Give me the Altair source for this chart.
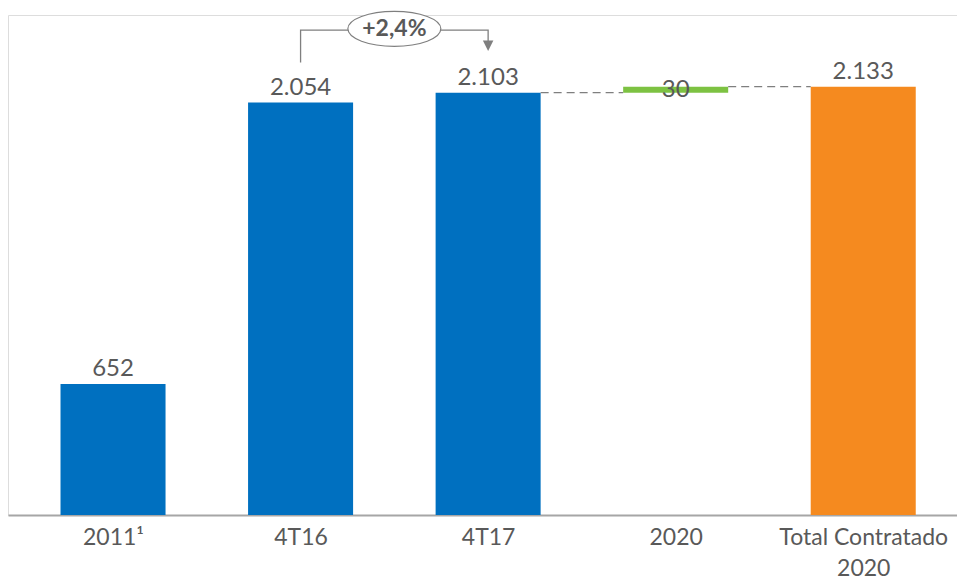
import json
import altair as alt
import pandas as pd

# ---- data ----
categories = ["2011", "4T16", "4T17", "2020", "Total Contratado 2020"]
axis_labels = [["2011¹"], ["4T16"], ["4T17"], ["2020"], ["Total Contratado", "2020"]]
bar_start = [0, 0, 0, 2103, 0]
bar_end = [652, 2054, 2103, 2133, 2133]
value_labels = ["652", "2.054", "2.103", "30", "2.133"]
bar_kind = ["hist", "hist", "hist", "add", "total"]
growth_label = "+2,4%"
growth_from, growth_to = 1, 2

FONT = "Lato"
GREY_TXT = "#595959"
GREY_LN = "#7f7f7f"
HALF = 0.28

bars = pd.DataFrame({
    "idx": list(range(len(categories))),
    "cat": categories,
    "start": bar_start,
    "end": bar_end,
    "label": value_labels,
    "kind": bar_kind,
})

# connectors between a bar and the next floating / total bar
conn_rows = []
for i in range(len(categories) - 1):
    if bar_kind[i + 1] in ("add", "total"):
        conn_rows.append({"x": i + HALF, "x2": i + 1 - HALF, "y": bar_end[i]})
conn = pd.DataFrame(conn_rows)

# growth bracket
top_level = max(bar_end) + 282
bracket = pd.DataFrame({
    "x": [growth_from, growth_from, growth_to, growth_to],
    "y": [bar_end[growth_from] + 200, top_level, top_level, top_level - 70],
    "o": [0, 1, 2, 3],
})
arrow = pd.DataFrame({"x": [growth_to], "y": [top_level - 78]})
bubble = pd.DataFrame({"x": [(growth_from + growth_to) / 2], "y": [top_level + 6], "t": [growth_label]})

xscale = alt.Scale(domain=[-0.56, 4.5], nice=False, zero=False)
yscale = alt.Scale(domain=[0, 2490], nice=False)

label_expr = json.dumps(axis_labels) + "[round(datum.value)]"

base = alt.Chart(bars)

bar_layer = base.transform_calculate(
    x0=f"datum.idx - {HALF}", x1=f"datum.idx + {HALF}"
).mark_bar().encode(
    x=alt.X("x0:Q", scale=xscale,
            axis=alt.Axis(values=[0, 1, 2, 3, 4], labelExpr=label_expr, title=None,
                          ticks=False, grid=False, domainColor="#a6a6a6", domainWidth=2,
                          labelFont=FONT, labelFontSize=23, labelColor=GREY_TXT,
                          labelPadding=11, labelLineHeight=31, labelFlush=False,
                          labelBaseline="top")),
    x2="x1:Q",
    y=alt.Y("start:Q", scale=yscale, axis=None),
    y2="end:Q",
    color=alt.Color("kind:N", scale=alt.Scale(domain=["hist", "add", "total"],
                                              range=["#0070c0", "#7dc242", "#f58a1f"]),
                    legend=None),
)

text_top = base.transform_filter("datum.kind != 'add'").mark_text(
    font=FONT, fontSize=24, color=GREY_TXT, baseline="alphabetic", dy=-8
).encode(x=alt.X("idx:Q", scale=xscale), y=alt.Y("end:Q", scale=yscale), text="label:N")

text_mid = base.transform_filter("datum.kind == 'add'").transform_calculate(
    mid="(datum.start + datum.end) / 2"
).mark_text(
    font=FONT, fontSize=24, color=GREY_TXT, baseline="middle"
).encode(x=alt.X("idx:Q", scale=xscale), y=alt.Y("mid:Q", scale=yscale), text="label:N")

conn_layer = alt.Chart(conn).mark_rule(color=GREY_LN, strokeWidth=1.3, strokeDash=[8, 5]).encode(
    x=alt.X("x:Q", scale=xscale), x2="x2:Q", y=alt.Y("y:Q", scale=yscale)
)

bracket_layer = alt.Chart(bracket).mark_line(color=GREY_LN, strokeWidth=1.3).encode(
    x=alt.X("x:Q", scale=xscale), y=alt.Y("y:Q", scale=yscale), order="o:Q"
)

arrow_layer = alt.Chart(arrow).mark_point(
    shape="M-1,-1L1,-1L0,1Z", size=110, filled=True, color=GREY_LN, opacity=1
).encode(x=alt.X("x:Q", scale=xscale), y=alt.Y("y:Q", scale=yscale))

ellipse_layer = alt.Chart(bubble).mark_point(
    shape="M-1,0A1,0.376 0 1,1 1,0A1,0.376 0 1,1 -1,0Z", size=8649,
    fill="white", stroke=GREY_LN, strokeWidth=1.2, opacity=1, fillOpacity=1
).encode(x=alt.X("x:Q", scale=xscale), y=alt.Y("y:Q", scale=yscale))

bubble_text = alt.Chart(bubble).mark_text(
    font=FONT, fontSize=23, fontWeight="bold", color=GREY_TXT, baseline="middle"
).encode(x=alt.X("x:Q", scale=xscale), y=alt.Y("y:Q", scale=yscale), text="t:N")

chart = alt.layer(
    bar_layer, conn_layer, text_top, text_mid, bracket_layer, arrow_layer, ellipse_layer, bubble_text
).properties(
    width=949, height=500,
    autosize=alt.AutoSizeParams(type="none"),
    padding={"left": 8, "right": 0, "top": 15, "bottom": 68},
).configure_view(stroke=None).configure(background="white")

chart.save("out.html", embed_options={"renderer": "svg", "actions": False})
